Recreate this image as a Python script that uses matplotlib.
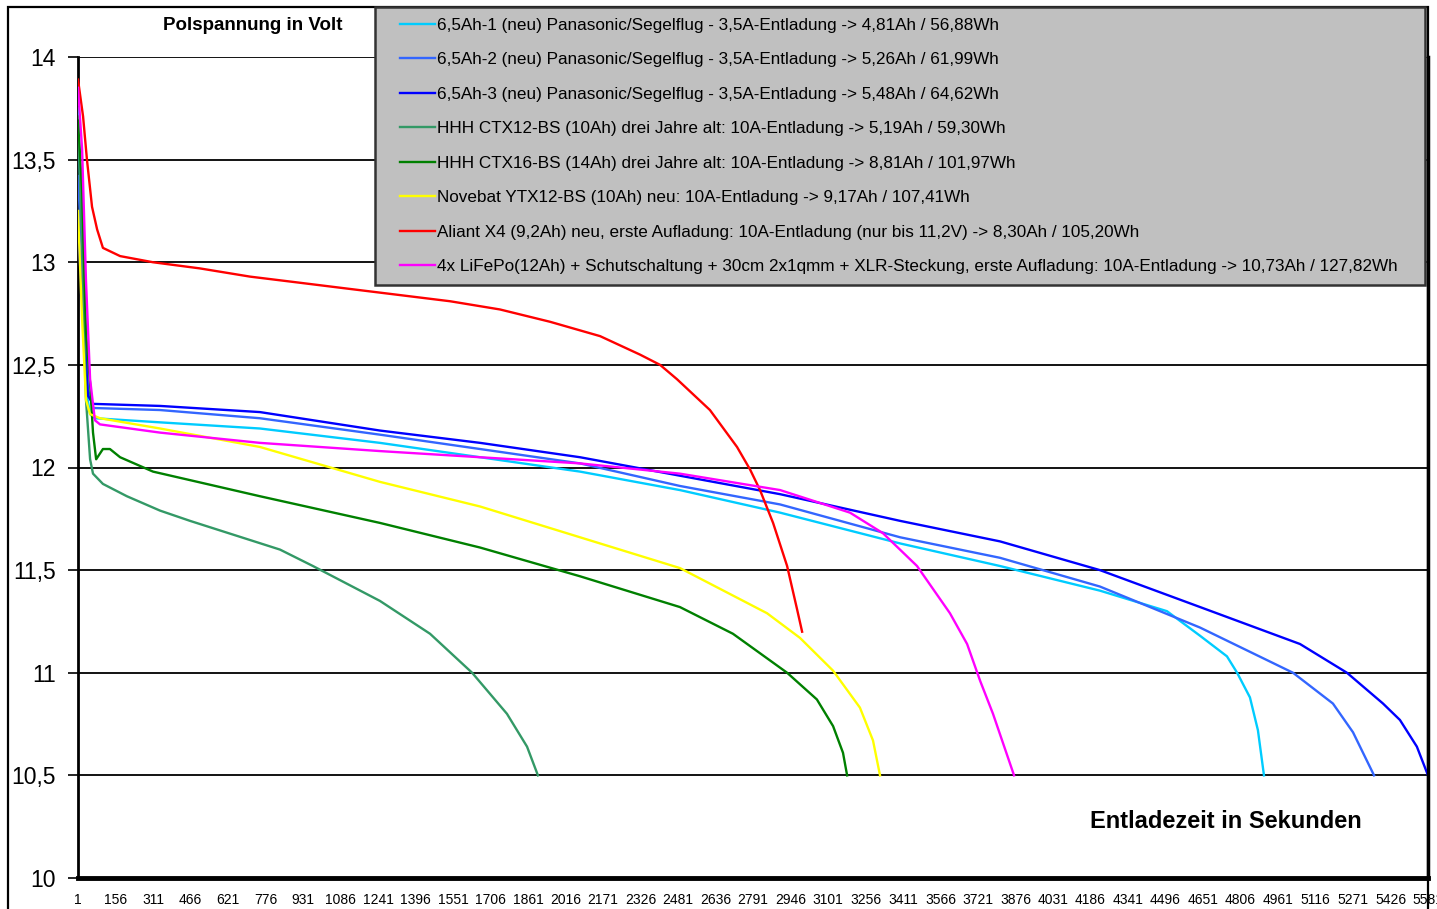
import matplotlib
matplotlib.use('Agg')
import matplotlib.pyplot as plt
from matplotlib.patches import Rectangle

plt.rcParams['font.family'] = ['Liberation Sans', 'DejaVu Sans']

W, H = 1437, 909

# ---------------- data ----------------
labels = [
    "6,5Ah-1 (neu) Panasonic/Segelflug - 3,5A-Entladung -> 4,81Ah / 56,88Wh",
    "6,5Ah-2 (neu) Panasonic/Segelflug - 3,5A-Entladung -> 5,26Ah / 61,99Wh",
    "6,5Ah-3 (neu) Panasonic/Segelflug - 3,5A-Entladung -> 5,48Ah / 64,62Wh",
    "HHH CTX12-BS (10Ah) drei Jahre alt: 10A-Entladung -> 5,19Ah / 59,30Wh",
    "HHH CTX16-BS (14Ah) drei Jahre alt: 10A-Entladung -> 8,81Ah / 101,97Wh",
    "Novebat YTX12-BS (10Ah) neu: 10A-Entladung -> 9,17Ah / 107,41Wh",
    "Aliant X4 (9,2Ah) neu, erste Aufladung: 10A-Entladung (nur bis 11,2V) -> 8,30Ah / 105,20Wh",
    "4x LiFePo(12Ah) + Schutschaltung + 30cm 2x1qmm + XLR-Steckung, erste Aufladung: 10A-Entladung -> 10,73Ah / 127,82Wh",
]
colors = ['#00CCFF', '#3366FF', '#0000FF', '#339966', '#008000', '#FFFF00', '#FF0000', '#FF00FF']

# 6,5Ah-1
t_a1 = [1, 18, 34, 51, 71, 340, 753, 1249, 1663, 2076, 2489, 2903, 3399, 3812, 4225, 4502, 4639, 4750, 4792, 4845, 4878, 4903]
v_a1 = [13.75, 13.06, 12.38, 12.26, 12.24, 12.22, 12.19, 12.12, 12.05, 11.98, 11.89, 11.78, 11.63, 11.52, 11.40, 11.30, 11.18, 11.08, 11.00, 10.88, 10.72, 10.50]
# 6,5Ah-2
t_a2 = [1, 26, 42, 63, 340, 753, 1249, 1663, 2076, 2489, 2903, 3399, 3812, 4225, 4639, 5023, 5188, 5271, 5358]
v_a2 = [13.42, 12.82, 12.38, 12.29, 12.28, 12.24, 12.16, 12.09, 12.02, 11.91, 11.82, 11.66, 11.56, 11.42, 11.22, 11.00, 10.85, 10.71, 10.50]
# 6,5Ah-3
t_a3 = [1, 26, 42, 63, 340, 753, 1249, 1663, 2076, 2489, 2903, 3399, 3812, 4225, 4639, 5052, 5246, 5395, 5465, 5535, 5581]
v_a3 = [13.15, 12.67, 12.35, 12.31, 12.30, 12.27, 12.18, 12.12, 12.05, 11.96, 11.87, 11.74, 11.64, 11.50, 11.32, 11.14, 11.00, 10.85, 10.77, 10.64, 10.50]
# HHH CTX12-BS
t_c12 = [1, 18, 34, 51, 63, 104, 203, 340, 464, 836, 972, 1249, 1456, 1630, 1774, 1857, 1902]
v_c12 = [13.71, 13.06, 12.33, 12.04, 11.97, 11.92, 11.86, 11.79, 11.74, 11.60, 11.52, 11.35, 11.19, 11.00, 10.80, 10.64, 10.50]
# HHH CTX16-BS
t_c16 = [1, 18, 34, 51, 63, 76, 104, 133, 175, 311, 753, 1249, 1663, 2076, 2489, 2708, 2932, 3055, 3122, 3163, 3180]
v_c16 = [13.69, 13.35, 12.66, 12.41, 12.17, 12.04, 12.09, 12.09, 12.05, 11.98, 11.86, 11.73, 11.61, 11.47, 11.32, 11.19, 11.00, 10.87, 10.74, 10.61, 10.50]
# Novebat
t_nov = [1, 18, 34, 51, 92, 340, 753, 1249, 1663, 2076, 2489, 2849, 2985, 3122, 3233, 3287, 3316]
v_nov = [13.25, 12.72, 12.33, 12.26, 12.24, 12.19, 12.10, 11.93, 11.81, 11.66, 11.51, 11.29, 11.17, 11.01, 10.83, 10.67, 10.50]
# Aliant X4
t_ali = [1, 22, 38, 59, 80, 104, 175, 311, 505, 712, 919, 1125, 1332, 1539, 1745, 1952, 2159, 2324, 2407, 2477, 2613, 2725, 2779, 2820, 2874, 2932, 2973, 2994]
v_ali = [13.89, 13.71, 13.50, 13.27, 13.16, 13.07, 13.03, 13.00, 12.97, 12.93, 12.90, 12.87, 12.84, 12.81, 12.77, 12.71, 12.64, 12.55, 12.50, 12.43, 12.28, 12.10, 11.99, 11.89, 11.73, 11.52, 11.31, 11.20]
# LiFePo
t_lfp = [1, 18, 34, 51, 71, 92, 340, 753, 1249, 1663, 2076, 2489, 2903, 3192, 3328, 3469, 3605, 3676, 3730, 3783, 3870]
v_lfp = [13.85, 13.55, 12.91, 12.43, 12.23, 12.21, 12.17, 12.12, 12.08, 12.05, 12.02, 11.97, 11.89, 11.78, 11.68, 11.52, 11.29, 11.14, 10.96, 10.80, 10.50]

series_t = [t_a1, t_a2, t_a3, t_c12, t_c16, t_nov, t_ali, t_lfp]
series_v = [v_a1, v_a2, v_a3, v_c12, v_c16, v_nov, v_ali, v_lfp]

y_ticks = [10, 10.5, 11, 11.5, 12, 12.5, 13, 13.5, 14]
y_ticklabels = ['10', '10,5', '11', '11,5', '12', '12,5', '13', '13,5', '14']
x_ticks = [1, 156, 311, 466, 621, 776, 931, 1086, 1241, 1396, 1551, 1706, 1861, 2016,
           2171, 2326, 2481, 2636, 2791, 2946, 3101, 3256, 3411, 3566, 3721, 3876, 4031,
           4186, 4341, 4496, 4651, 4806, 4961, 5116, 5271, 5426, 5581]

title = "Polspannung in Volt"
xlabel = "Entladezeit in Sekunden"

# ---------------- figure ----------------
fig = plt.figure(figsize=(W / 100, H / 100), dpi=100)
fig.patch.set_facecolor('white')

# outer chart border
fig.patches.append(Rectangle((8 / W, -0.05), (1428 - 8) / W, 1 - 7 / H + 0.05,
                             transform=fig.transFigure, fill=False,
                             edgecolor='black', lw=1.6, zorder=0))

ax = fig.add_axes([78 / W, 31 / H, 1350 / W, 821 / H])
ax.set_xlim(1, 5581)
ax.set_ylim(10, 14)

for y in y_ticks[1:]:
    ax.axhline(y, color='black', lw=1.3, zorder=1)

handles = []
for t, v, c, lab in zip(series_t, series_v, colors, labels):
    h, = ax.plot(t, v, color=c, lw=1.7, label=lab, zorder=3)
    handles.append(h)

ax.set_yticks(y_ticks)
ax.set_yticklabels(y_ticklabels, fontsize=16.5)
ax.set_xticks(x_ticks)
ax.set_xticklabels([str(x) for x in x_ticks], fontsize=10)
ax.tick_params(axis='y', direction='out', length=7, width=1.2, pad=9)
ax.tick_params(axis='x', length=0, pad=11)

ax.spines['top'].set_visible(False)
ax.spines['left'].set_linewidth(2)
ax.spines['right'].set_linewidth(2.5)
ax.spines['bottom'].set_linewidth(3.5)

# titles
fig.text(253 / W, 1 - 25 / H, title, ha='center', va='center', fontsize=13.5, fontweight='bold')
fig.text(1226 / W, 1 - 821 / H, xlabel, ha='center', va='center', fontsize=17, fontweight='bold')

# legend background
fig.patches.append(Rectangle((375 / W, 1 - 285 / H), 1050 / W, 278 / H,
                             transform=fig.transFigure, facecolor='#C0C0C0',
                             edgecolor='#333333', lw=1.8, zorder=5))
leg = fig.legend(handles, labels, loc='upper left',
                 bbox_to_anchor=(400 / W, 1 - 18 / H), bbox_transform=fig.transFigure,
                 frameon=False, fontsize=12.3, handlelength=2.05, handletextpad=0.12,
                 labelspacing=1.14, borderpad=0, borderaxespad=0)
leg.set_zorder(6)

fig.savefig('out.png', dpi=100)
